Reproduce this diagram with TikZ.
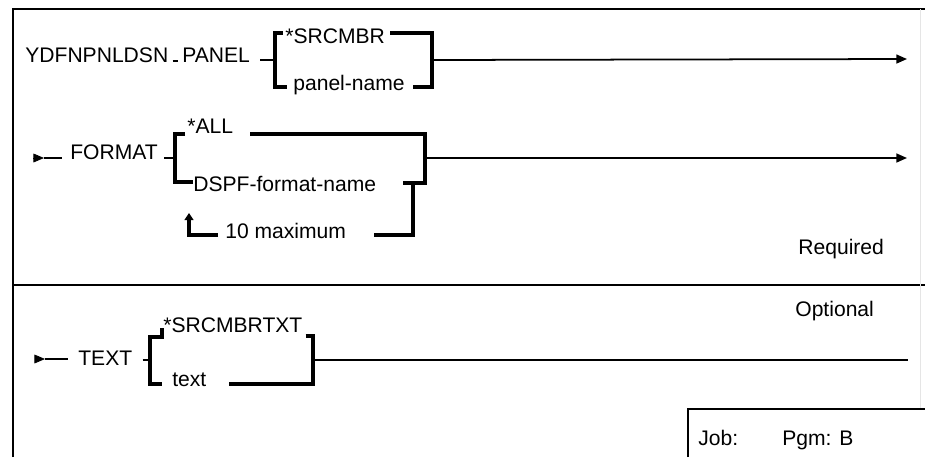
\documentclass[tikz,border=0pt]{standalone}
\usepackage{fontspec}
\setmainfont{Liberation Sans}
\usetikzlibrary{arrows.meta,calc}

\begin{document}
\begin{tikzpicture}[x=0.02cm,y=-0.02cm,
	lbl/.style={anchor=base west,inner sep=0pt,font=\fontsize{12}{14}\selectfont},
	frm/.style={line width=1.1pt},
	brk/.style={line width=2.1pt},
	rail/.style={line width=1pt},
	tip/.style={-{Triangle[length=6pt,width=5pt]}}]
	\useasboundingbox (0,0) rectangle (925,457);
	% frame
	\draw[frm] (13,457) -- (13,9) -- (925,9);
	\draw[frm] (13,285) -- (925,285);
	\draw[gray!20] (920,9) -- (920,409);
	\draw[frm] (688,457) -- (688,409) -- (925,409);
	% PANEL
	\node[lbl] (cmd) at (25,62) {YDFNPNLDSN};
	\node[lbl] (panel) at (182,62) {PANEL};
	\node[lbl] (srcmbr) at (285,43) {*SRCMBR};
	\node[lbl] (pnlname) at (293,90) {panel-name};
	\coordinate (b1l) at (275,60); \coordinate (b1r) at (432,60);
	\coordinate (b1tl) at (275,33); \coordinate (b1bl) at (275,87);
	\coordinate (b1tr) at (432,33); \coordinate (b1br) at (432,87);
	\coordinate (end1) at (907,59);
	\draw[rail] ($(cmd.base east)+(4,-1)$) -- ($(panel.base west)+(-4,-1)$);
	\draw[rail] ($(panel.east |- b1l)+(10,0)$) -- (b1l);
	\draw[brk] ($(srcmbr.west |- b1tl)+(-2,0)$) -- (b1tl) -- (b1bl) -- ($(pnlname.west |- b1bl)+(-6,0)$);
	\draw[brk] ($(srcmbr.east |- b1tr)+(5,0)$) -- (b1tr) -- (b1br) -- ($(pnlname.east |- b1br)+(8,0)$);
	\draw[rail,tip] (b1r) -- (end1);
	% FORMAT
	\node[lbl] (format) at (70,159) {FORMAT};
	\node[lbl] (all) at (187,133) {*ALL};
	\node[lbl] (dspf) at (193,191) {DSPF-format-name};
	\node[lbl] (maxn) at (225,238) {10 maximum};
	\coordinate (s2) at (33,158);
	\coordinate (b2l) at (175,158); \coordinate (b2r) at (425,158);
	\coordinate (b2tl) at (175,134); \coordinate (b2bl) at (175,182);
	\coordinate (b2tr) at (425,134); \coordinate (b2br) at (425,183);
	\coordinate (r2b) at (413,235); \coordinate (r2a) at (189,235);
	\coordinate (end2) at (907,158);
	\draw[tip] (s2) -- ++(11,0);
	\draw[rail] ($(s2)+(11,0)$) -- ($(format.west |- s2)+(-8,0)$);
	\draw[rail] ($(format.east |- b2l)+(6,0)$) -- (b2l);
	\draw[brk] ($(all.west |- b2tl)+(-2,0)$) -- (b2tl) -- (b2bl) -- (dspf.west |- b2bl);
	\draw[brk] ($(all.east |- b2tr)+(17,0)$) -- (b2tr) -- (b2br) -- ($(dspf.east |- b2br)+(27,0)$);
	\draw[brk] (r2b |- b2br) -- (r2b) -- ($(maxn.east |- r2b)+(28,0)$);
	\draw[brk,-{Triangle[length=4pt,width=5pt]}] ($(maxn.west |- r2a)+(-7,0)$) -- (r2a) -- ++(0,-22);
	\draw[rail,tip] (b2r) -- (end2);
	\node[lbl] (req) at (798,254) {Required};
	% TEXT
	\node[lbl] (text) at (78,365) {TEXT};
	\node[lbl] (srctxt) at (163,332) {*SRCMBRTXT};
	\node[lbl] (txt) at (172,386) {text};
	\coordinate (s3) at (35,359);
	\coordinate (b3l) at (150,360); \coordinate (b3r) at (313,360);
	\coordinate (b3tl) at (150,337); \coordinate (b3bl) at (150,384);
	\coordinate (b3tr) at (313,336); \coordinate (b3br) at (313,384);
	\coordinate (end3) at (908,360);
	\draw[tip] (s3) -- ++(10,0);
	\draw[rail] ($(s3)+(10,0)$) -- ($(text.west |- s3)+(-10,0)$);
	\draw[rail] ($(text.east |- b3l)+(10,0)$) -- (b3l);
	\draw[brk] ($(b3tl)+(12,-9)$) -- ++(0,9) -- (b3tl) -- (b3bl) -- ($(txt.west |- b3bl)+(-10,0)$);
	\draw[brk] ($(srctxt.east |- b3tr)+(3,0)$) -- (b3tr) -- (b3br) -- ($(txt.east |- b3br)+(22,0)$);
	\draw[rail] (b3r) -- (end3);
	\node[lbl] (opt) at (795,316) {Optional};
	\node[lbl] (job) at (698,445) {Job:};
	\node[lbl] (pgm) at (782,445) {Pgm: B};
\end{tikzpicture}
\end{document}
